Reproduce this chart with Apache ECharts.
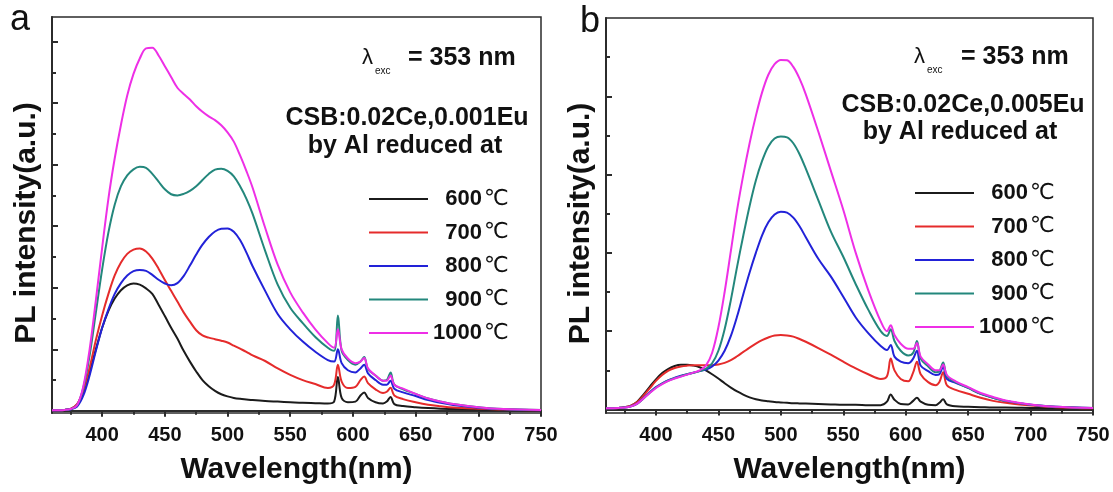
<!DOCTYPE html>
<html>
<head>
<meta charset="utf-8">
<script src="https://cdn.jsdelivr.net/npm/echarts@6/dist/echarts.min.js"></script>
<style>
  html, body { margin: 0; padding: 0; background: #fff; }
  #chart { width: 1113px; height: 492px; }
</style>
</head>
<body>
<div id="chart"></div>
<script>
// wavelength grid (nm), shared by every curve
const wavelengths = [360, 370, 375, 380, 385, 390, 395, 400, 405, 410, 415, 420, 425, 430, 435, 440, 445, 450, 455, 460,
  465, 470, 475, 480, 485, 490, 495, 500, 505, 510, 515, 520, 530, 540, 550, 560, 570, 580, 585, 588,
  591, 596, 602, 606, 609, 612, 618, 624, 627, 630, 633, 640, 650, 660, 670, 680, 700, 720, 750];

const tempNames = ["600℃", "700℃", "800℃", "900℃", "1000℃"];
const tempColors = ["#1b1b1b", "#e52b2b", "#2222d8", "#23877c", "#ee2fe6"];

// panel a: CSB:0.02Ce,0.001Eu
const a600 = [0.02, 0.03, 0.06, 0.2, 0.6, 1.25, 2.0, 2.7, 3.25, 3.65, 3.92, 4.08, 4.14, 4.1, 3.98, 3.8, 3.45, 3.08, 2.7, 2.35,
  1.95, 1.6, 1.28, 1.0, 0.8, 0.65, 0.54, 0.47, 0.42, 0.39, 0.37, 0.35, 0.32, 0.3, 0.28, 0.26, 0.25, 0.24, 0.3, 1.1,
  0.42, 0.28, 0.3, 0.5, 0.6, 0.42, 0.28, 0.24, 0.3, 0.45, 0.22, 0.16, 0.12, 0.09, 0.07, 0.06, 0.04, 0.03, 0.02];
const a700 = [0.02, 0.03, 0.07, 0.22, 0.65, 1.4, 2.3, 3.1, 3.8, 4.4, 4.82, 5.1, 5.24, 5.28, 5.18, 4.95, 4.62, 4.25, 3.9, 3.55,
  3.2, 2.9, 2.62, 2.45, 2.38, 2.33, 2.28, 2.22, 2.12, 2.02, 1.92, 1.8, 1.62, 1.38, 1.17, 1.0, 0.87, 0.74, 0.85, 1.5,
  0.95, 0.74, 0.78, 1.0, 1.12, 0.9, 0.7, 0.58, 0.62, 0.75, 0.5, 0.38, 0.28, 0.2, 0.15, 0.11, 0.07, 0.04, 0.02];
const a800 = [0.02, 0.03, 0.05, 0.14, 0.5, 1.15, 1.95, 2.7, 3.3, 3.8, 4.15, 4.4, 4.54, 4.58, 4.55, 4.42, 4.26, 4.14, 4.08, 4.15,
  4.38, 4.72, 5.08, 5.4, 5.65, 5.83, 5.92, 5.93, 5.82, 5.55, 5.15, 4.7, 3.9, 3.15, 2.65, 2.25, 1.92, 1.65, 1.6, 2.0,
  1.55, 1.32, 1.25, 1.38, 1.5, 1.22, 1.0, 0.85, 0.85, 0.98, 0.72, 0.6, 0.48, 0.35, 0.26, 0.19, 0.1, 0.05, 0.02];
const a900 = [0.02, 0.03, 0.06, 0.18, 0.75, 1.8, 3.2, 4.6, 5.8, 6.7, 7.3, 7.65, 7.85, 7.93, 7.9, 7.7, 7.45, 7.2, 7.04, 7.0,
  7.05, 7.15, 7.3, 7.5, 7.7, 7.84, 7.87, 7.8, 7.62, 7.3, 6.9, 6.4, 5.2, 4.1, 3.35, 2.85, 2.4, 2.05, 1.95, 3.1,
  1.95, 1.65, 1.5, 1.6, 1.75, 1.35, 1.15, 0.98, 1.0, 1.25, 0.85, 0.7, 0.55, 0.4, 0.3, 0.22, 0.12, 0.06, 0.03];
const a1000 = [0.02, 0.03, 0.06, 0.18, 0.8, 2.0, 3.6, 5.3, 6.9, 8.2, 9.3, 10.25, 10.95, 11.45, 11.78, 11.8, 11.55, 11.2, 10.85, 10.5,
  10.3, 10.12, 9.9, 9.72, 9.57, 9.45, 9.28, 9.05, 8.75, 8.3, 7.8, 7.25, 5.95, 4.75, 3.85, 3.2, 2.65, 2.2, 2.05, 2.65,
  2.0, 1.7, 1.55, 1.6, 1.72, 1.38, 1.15, 0.98, 0.98, 1.15, 0.85, 0.72, 0.55, 0.4, 0.3, 0.22, 0.12, 0.06, 0.03];

// panel b: CSB:0.02Ce,0.005Eu
const b600 = [0.03, 0.04, 0.06, 0.1, 0.2, 0.38, 0.58, 0.77, 0.93, 1.04, 1.11, 1.14, 1.14, 1.12, 1.08, 1.0, 0.9, 0.79, 0.67, 0.56,
  0.46, 0.38, 0.31, 0.26, 0.23, 0.21, 0.19, 0.18, 0.17, 0.16, 0.155, 0.15, 0.14, 0.13, 0.12, 0.12, 0.11, 0.11, 0.2, 0.38,
  0.25, 0.14, 0.13, 0.22, 0.3, 0.2, 0.12, 0.11, 0.17, 0.26, 0.13, 0.08, 0.07, 0.06, 0.05, 0.05, 0.04, 0.03, 0.03];
const b700 = [0.03, 0.04, 0.06, 0.1, 0.19, 0.35, 0.54, 0.73, 0.88, 0.99, 1.06, 1.1, 1.12, 1.13, 1.13, 1.13, 1.13, 1.15, 1.19, 1.26,
  1.36, 1.47, 1.58, 1.68, 1.77, 1.84, 1.89, 1.9, 1.89, 1.86, 1.8, 1.73, 1.57, 1.4, 1.22, 1.05, 0.9, 0.78, 0.85, 1.3,
  1.0, 0.78, 0.72, 0.95, 1.22, 0.9, 0.7, 0.62, 0.7, 0.95, 0.62, 0.5, 0.4, 0.3, 0.22, 0.17, 0.1, 0.06, 0.03];
const b800 = [0.03, 0.04, 0.05, 0.08, 0.15, 0.29, 0.44, 0.57, 0.67, 0.75, 0.81, 0.86, 0.9, 0.94, 0.98, 1.02, 1.1, 1.25, 1.5, 1.88,
  2.38, 2.95, 3.5, 4.0, 4.45, 4.78, 4.98, 5.05, 5.03, 4.9, 4.68, 4.4, 3.85, 3.4, 2.88, 2.35, 1.95, 1.62, 1.52, 1.65,
  1.35, 1.22, 1.18, 1.3, 1.5, 1.12, 0.98, 0.88, 0.9, 1.1, 0.78, 0.68, 0.55, 0.4, 0.3, 0.22, 0.12, 0.07, 0.04];
const b900 = [0.03, 0.04, 0.05, 0.08, 0.15, 0.28, 0.43, 0.56, 0.66, 0.74, 0.8, 0.85, 0.9, 0.94, 0.98, 1.04, 1.18, 1.5, 2.05, 2.8,
  3.65, 4.45, 5.2, 5.85, 6.35, 6.72, 6.92, 6.97, 6.95, 6.8, 6.52, 6.15, 5.35, 4.55, 3.9, 3.2, 2.55, 2.0, 1.88, 2.05,
  1.75, 1.5, 1.38, 1.45, 1.75, 1.3, 1.1, 0.95, 0.98, 1.2, 0.85, 0.7, 0.55, 0.4, 0.3, 0.22, 0.12, 0.07, 0.04];
const b1000 = [0.03, 0.04, 0.05, 0.08, 0.15, 0.28, 0.42, 0.55, 0.65, 0.73, 0.79, 0.84, 0.89, 0.94, 1.0, 1.12, 1.45, 2.1, 3.0, 4.05,
  5.1, 6.0, 6.8, 7.5, 8.1, 8.55, 8.82, 8.93, 8.92, 8.75, 8.45, 8.05, 7.1, 6.1, 5.1, 4.0, 3.05, 2.25, 2.0, 2.15,
  1.9, 1.68, 1.55, 1.55, 1.7, 1.35, 1.15, 1.0, 1.0, 1.15, 0.88, 0.72, 0.57, 0.42, 0.32, 0.23, 0.13, 0.07, 0.04];

// axis ticks
const xLabelTicks = [400, 450, 500, 550, 600, 650, 700, 750];
const xMinorTicks = [375, 425, 475, 525, 575, 625, 675, 725];
const yMajorA = [2, 4, 6, 8, 10, 12];
const yMinorA = [1, 3, 5, 7, 9, 11];
const yMajorB = [2, 4, 6, 8];
const yMinorB = [1, 3, 5, 7, 9];

const FONT = "'Liberation Sans', Arial, sans-serif";
const AXIS_COLOR = "#2b2b2b";

const chart = echarts.init(document.getElementById("chart"));

const grids = [
    { left: 52, top: 17, width: 489, height: 396, show: true, borderColor: AXIS_COLOR, borderWidth: 1.5 },
    { left: 606, top: 18, width: 487, height: 395, show: true, borderColor: AXIS_COLOR, borderWidth: 1.5 },
];

function xAxes(gi) {
    return [
        {
            type: "value", gridIndex: gi, min: 360, max: 750,
            name: "Wavelength(nm)", nameLocation: "middle", nameGap: 42,
            nameTextStyle: { fontFamily: FONT, fontWeight: "bold", fontSize: 30, color: "#111" },
            axisLine: { lineStyle: { color: AXIS_COLOR, width: 2 } },
            axisTick: { customValues: xLabelTicks, length: 6, lineStyle: { color: AXIS_COLOR, width: 2 } },
            axisLabel: { customValues: xLabelTicks, margin: 12, fontFamily: FONT, fontWeight: "bold", fontSize: 20, color: "#111" },
            splitLine: { show: false },
        },
        {
            type: "value", gridIndex: gi, min: 360, max: 750, position: "bottom",
            axisLine: { show: false },
            axisTick: { customValues: xMinorTicks, length: 4, lineStyle: { color: AXIS_COLOR, width: 2 } },
            axisLabel: { show: false },
            splitLine: { show: false },
        },
    ];
}

function yAxes(gi, max, major, minor) {
    const min = gi === 0 ? -0.07 : -0.09;
    return [
        {
            type: "value", gridIndex: gi, min: min, max: max,
            name: "PL intensity(a.u.)", nameLocation: "middle", nameGap: 10,
            nameTextStyle: { fontFamily: FONT, fontWeight: "bold", fontSize: 30, color: "#111", padding: [0, 16, 0, 0] },
            axisLine: { lineStyle: { color: AXIS_COLOR, width: 2 } },
            axisTick: { inside: true, customValues: major, length: 6, lineStyle: { color: AXIS_COLOR, width: 2 } },
            axisLabel: { show: false },
            splitLine: { show: false },
        },
        {
            type: "value", gridIndex: gi, min: min, max: max, position: "left",
            axisLine: { show: false },
            axisTick: { inside: true, customValues: minor, length: 4, lineStyle: { color: AXIS_COLOR, width: 2 } },
            axisLabel: { show: false },
            splitLine: { show: false },
        },
    ];
}

function makeSeries(gi, list) {
    return list.map((vals, i) => ({
        name: tempNames[i],
        type: "line",
        xAxisIndex: gi * 2,
        yAxisIndex: gi * 2,
        data: wavelengths.map((w, k) => [w, vals[k]]),
        symbol: "none",
        smooth: 0.35,
        lineStyle: { color: tempColors[i], width: 2 },
        itemStyle: { color: tempColors[i] },
        z: 2 + i,
    }));
}

// "600℃" -> figure-space padded number + thin ℃, so the column lines up on the right
function legendLabel(name) {
    const num = name.replace("℃", "");
    const pad = num.length < 4 ? "\u2007" : "";
    return "{n|" + pad + num + "}{c|℃}";
}

function legendFor(left, top) {
    return {
        orient: "vertical",
        left: left,
        top: top,
        icon: "rect",
        itemWidth: 59,
        itemHeight: 2,
        itemGap: 11.5,
        selectedMode: false,
        data: tempNames,
        formatter: legendLabel,
        textStyle: {
            rich: {
                n: { fontFamily: FONT, fontWeight: "bold", fontSize: 22, lineHeight: 24, color: "#111" },
                c: { fontFamily: "'DejaVu Sans', sans-serif", fontWeight: "normal", fontSize: 22, lineHeight: 24, color: "#111", padding: [0, 0, 0, 2] },
            },
        },
    };
}

function textEl(x, y, text, size, bold, align) {
    return {
        type: "text", x: x, y: y,
        style: {
            text: text, fill: "#111", font: (bold ? "bold " : "") + size + "px " + FONT,
            textAlign: align || "left", textVerticalAlign: "middle",
        },
    };
}

const option = {
    animation: false,
    backgroundColor: "#fff",
    grid: grids,
    xAxis: [...xAxes(0), ...xAxes(1)],
    yAxis: [...yAxes(0, 12.8, yMajorA, yMinorA), ...yAxes(1, 10, yMajorB, yMinorB)],
    legend: [legendFor(364, 183), legendFor(910, 177)],
    series: [
        ...makeSeries(0, [a600, a700, a800, a900, a1000]),
        ...makeSeries(1, [b600, b700, b800, b900, b1000]),
    ],
    graphic: [
        textEl(10, 20, "a", 36, false),
        textEl(580, 22, "b", 36, false),
        // panel a notes
        textEl(362, 58, "λ", 22, false),
        textEl(375, 71, "exc", 10, false),
        textEl(408, 58, "= 353 nm", 25, true),
        textEl(407, 118, "CSB:0.02Ce,0.001Eu", 25, true, "center"),
        textEl(405, 146, "by Al reduced at", 25, true, "center"),
        // panel b notes
        textEl(914, 57, "λ", 22, false),
        textEl(927, 70, "exc", 10, false),
        textEl(961, 57, "= 353 nm", 25, true),
        textEl(963, 105, "CSB:0.02Ce,0.005Eu", 25, true, "center"),
        textEl(960, 132, "by Al reduced at", 25, true, "center"),
    ],
};

chart.setOption(option);
</script>
</body>
</html>
